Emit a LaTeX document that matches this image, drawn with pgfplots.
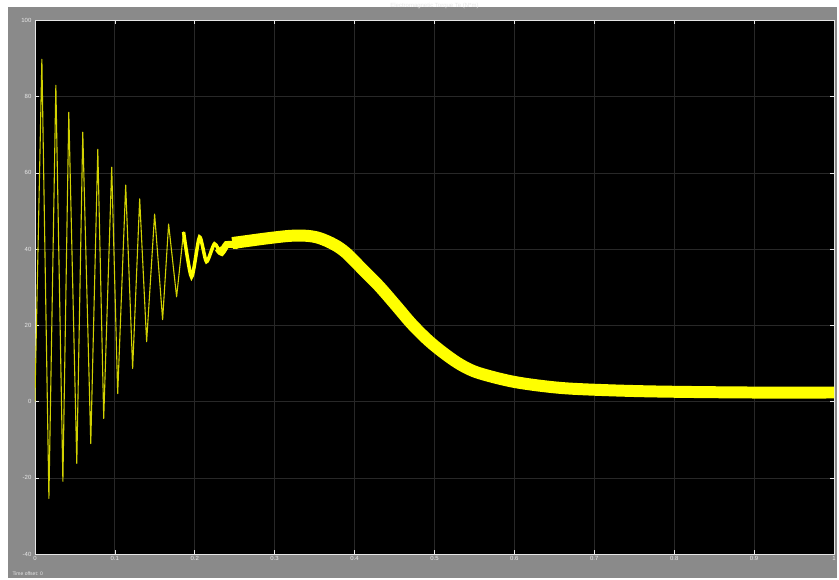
\documentclass[border=0pt]{standalone}
\usepackage{pgfplots}
\pgfplotsset{compat=1.18}
\usepackage{fontspec}
\setmainfont{Liberation Sans}
\definecolor{scopegray}{HTML}{8A8A8A}
\definecolor{gridc}{HTML}{282828}
\definecolor{lab}{HTML}{E8E8E8}
\definecolor{sig}{HTML}{FFFF00}
\definecolor{sigthin}{HTML}{D2D200}
\begin{document}
\begin{tikzpicture}[x=1pt,y=1pt]
\fill[white] (0,0) rectangle (839,577);
\fill[scopegray] (8,0) rectangle (839,572);
\node[anchor=west, text=lab, font=\fontsize{5}{6}\selectfont] at (9,4) {Time offset: 0};
\begin{axis}[
 at={(35pt,24pt)}, anchor=south west,
 scale only axis, width=801pt, height=535pt,
 xmin=0, xmax=1, ymin=-40, ymax=100,
 xtick={0,0.1,0.2,0.3,0.4,0.5,0.6,0.7,0.8,0.9,1},
 xticklabels={0,0.1,0.2,0.3,0.4,0.5,0.6,0.7,0.8,0.9,1},
 ytick={-40,-20,0,20,40,60,80,100},
 yticklabels={-40,-20,0,20,40,60,80,100},
 axis background/.style={fill=black},
 grid=major, major grid style={gridc, line width=0.7pt},
 axis line style={draw=white!80!gray, line width=0.8pt},
 tick style={lab, line width=0.5pt}, tick align=inside, major tick length=4pt,
 ticklabel style={font=\fontsize{6}{7}\selectfont, text=lab},
 xticklabel style={yshift=1pt},
 title={Electromagnetic Torque Te (N*m)},
 title style={at={(0.5,1)}, anchor=south, yshift=2pt, font=\fontsize{6}{7}\selectfont, text=lab},
 clip=true,
]
\addplot[sigthin, line width=1.1pt, line join=round] coordinates {
(0,0) (0.0087,89.8) (0.0175,-25.4) (0.0262,83.0) (0.0350,-20.9) (0.0424,75.9)
(0.0524,-16.2) (0.0599,70.7) (0.0699,-11.0) (0.0787,66.2) (0.0861,-4.4)
(0.0961,61.5) (0.1036,2.1) (0.1136,56.8) (0.1223,8.7) (0.1311,53.2)
(0.1398,15.7) (0.1498,49.2) (0.1598,21.5) (0.1673,46.6) (0.1773,27.5)
(0.1860,44.5) (0.1960,32.7)
};
\addplot[sig, line width=3.5pt, smooth, tension=0.4] coordinates {
(0.1860,44.5) (0.1960,32.7) (0.2060,43.2) (0.2147,36.7) (0.2247,41.4)
(0.2335,38.8) (0.2430,41.6) (0.2520,40.5) (0.2600,42.0)
};
\addplot[sig, line width=7pt, smooth, tension=0.4] coordinates {
(0.2290,40.2) (0.2335,39.2) (0.2400,41.2) (0.2470,41.2) (0.2560,41.8)
};
\addplot[sig, line width=12pt, smooth, tension=0.55] coordinates {
(0.2470,41.6) (0.268,42.2) (0.293,42.9) (0.320,43.5) (0.340,43.5) (0.356,42.9)
(0.3745,41.2) (0.3895,39.0) (0.4095,34.8) (0.4307,30.3) (0.4519,25.2)
(0.4719,20.3) (0.4931,15.9) (0.5144,12.3) (0.5343,9.5) (0.5556,7.5)
(0.5968,5.3) (0.6392,4.0) (0.6804,3.3) (0.7678,2.7) (0.8926,2.4) (1.0,2.4)
};
\end{axis}
\end{tikzpicture}
\end{document}
